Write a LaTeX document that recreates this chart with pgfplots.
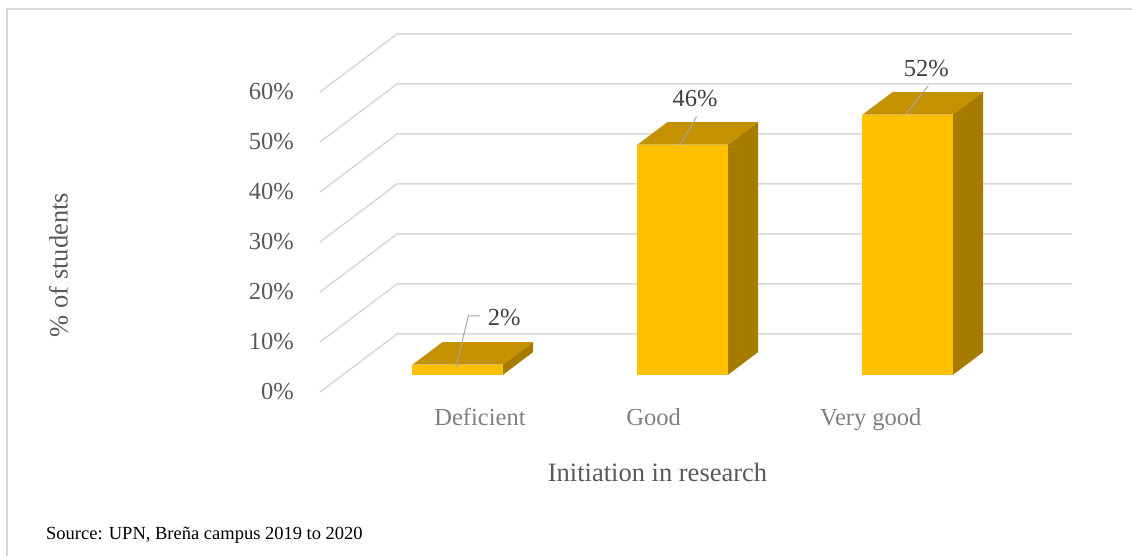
\documentclass[border=0pt]{standalone}
\usepackage{pgfplots}
\pgfplotsset{compat=1.18}
\usepackage{fontspec}
\setmainfont{Liberation Serif}
\definecolor{gridc}{HTML}{D9D9D9}
\definecolor{frontc}{HTML}{FFC000}
\definecolor{topc}{HTML}{C49200}
\definecolor{sidec}{HTML}{A57C00}
\definecolor{tickc}{HTML}{595959}
\definecolor{catc}{HTML}{808080}
\definecolor{lblc}{HTML}{404040}
\definecolor{leadc}{HTML}{A6A6A6}
\pgfplotsset{/pgf/number format/assume math mode=true}

% 3D-looking bar: #1 = left edge of front face (category units), #2 = value (%)
\newcommand\tdbar[2]{%
  \pgfmathsetmacro\xa{#1}%
  \pgfmathsetmacro\xb{#1+0.403}%
  \pgfmathsetmacro\xc{#1+0.1333}%
  \pgfmathsetmacro\xd{#1+0.5363}%
  \pgfmathsetmacro\yb{3.48+#2}%
  \pgfmathsetmacro\yd{7.98+#2}%
  \addplot[fill=frontc, draw=none, forget plot] coordinates {(\xa,3.48) (\xb,3.48) (\xb,\yb) (\xa,\yb)} -- cycle;
  \addplot[fill=topc, draw=none, forget plot] coordinates {(\xa,\yb) (\xb,\yb) (\xd,\yd) (\xc,\yd)} -- cycle;
  \addplot[fill=sidec, draw=none, forget plot] coordinates {(\xb,3.48) (\xd,7.98) (\xd,\yd) (\xb,\yb)} -- cycle;
}

\begin{document}
\begin{tikzpicture}[x=1pt,y=1pt]
\path[use as bounding box] (0,0) rectangle (1132,556);
\draw[gridc, line width=1.5pt] (7,0) -- (7,547) -- (1132,547);
\coordinate (O) at (320,164);
\begin{axis}[
  at={(O)}, anchor=south west,
  x=225pt, y=5pt,
  xmin=0, xmax=3, ymin=0, ymax=60,
  enlargelimits=false,
  clip=false,
  axis line style={draw=none},
  major tick length=0pt,
  ytick={0,10,...,60},
  yticklabel={\pgfmathprintnumber{\tick}\%},
  yticklabel style={font=\fontsize{24.5}{29}\selectfont, text=tickc, anchor=east, inner sep=0pt, xshift=-26pt},
  xtick={0.711,1.483,2.448},
  xticklabels={Deficient,Good,Very good},
  xticklabel style={font=\fontsize{24.5}{29}\selectfont, text=catc, anchor=base, inner sep=0pt, yshift=-33.7pt},
  xlabel={Initiation in research},
  ylabel={\% of students},
  every axis x label/.style={at={(axis description cs:0.5,-0.2967)}, anchor=base, inner sep=0pt, font=\fontsize{26.5}{31}\selectfont, text=tickc},
  every axis y label/.style={at={(axis description cs:-0.374,0.423)}, anchor=base, rotate=90, inner sep=0pt, font=\fontsize{26.5}{31}\selectfont, text=tickc},
]
% walls: side-wall diagonals and back-wall gridlines
\pgfplotsinvokeforeach{0,10,20,30,40,50,60}{
  \pgfmathsetmacro\gy{#1+11.6}
  \addplot[gridc, line width=1.5pt, forget plot] coordinates {(0,#1) (0.3422,\gy) (3.3422,\gy)};
}
% bars
\tdbar{0.411}{2}
\tdbar{1.411}{46}
\tdbar{2.411}{52}
% leader lines
\addplot[leadc, line width=1pt, forget plot] coordinates {(0.604,4.94) (0.659,15.2) (0.711,15.2)};
\addplot[leadc, line width=1pt, forget plot] coordinates {(1.600,49.4) (1.674,55.06)};
\addplot[leadc, line width=1pt, forget plot] coordinates {(2.604,55.6) (2.703,61.2)};
% data labels
\addplot[draw=none, mark=none, point meta=explicit,
  nodes near coords={\pgfmathprintnumber{\pgfplotspointmeta}\%},
  every node near coord/.style={anchor=center, inner sep=0pt, font=\fontsize{24.5}{29}\selectfont, text=lblc}]
  coordinates {(0.819,14.9) [2] (1.6667,58.64) [46] (2.6947,64.64) [52]};
\end{axis}
\node[anchor=base west, inner sep=0pt, font=\fontsize{18.5}{22}\selectfont] at (46,16.7) {Source: UPN, Breña campus 2019 to 2020};
\end{tikzpicture}
\end{document}
